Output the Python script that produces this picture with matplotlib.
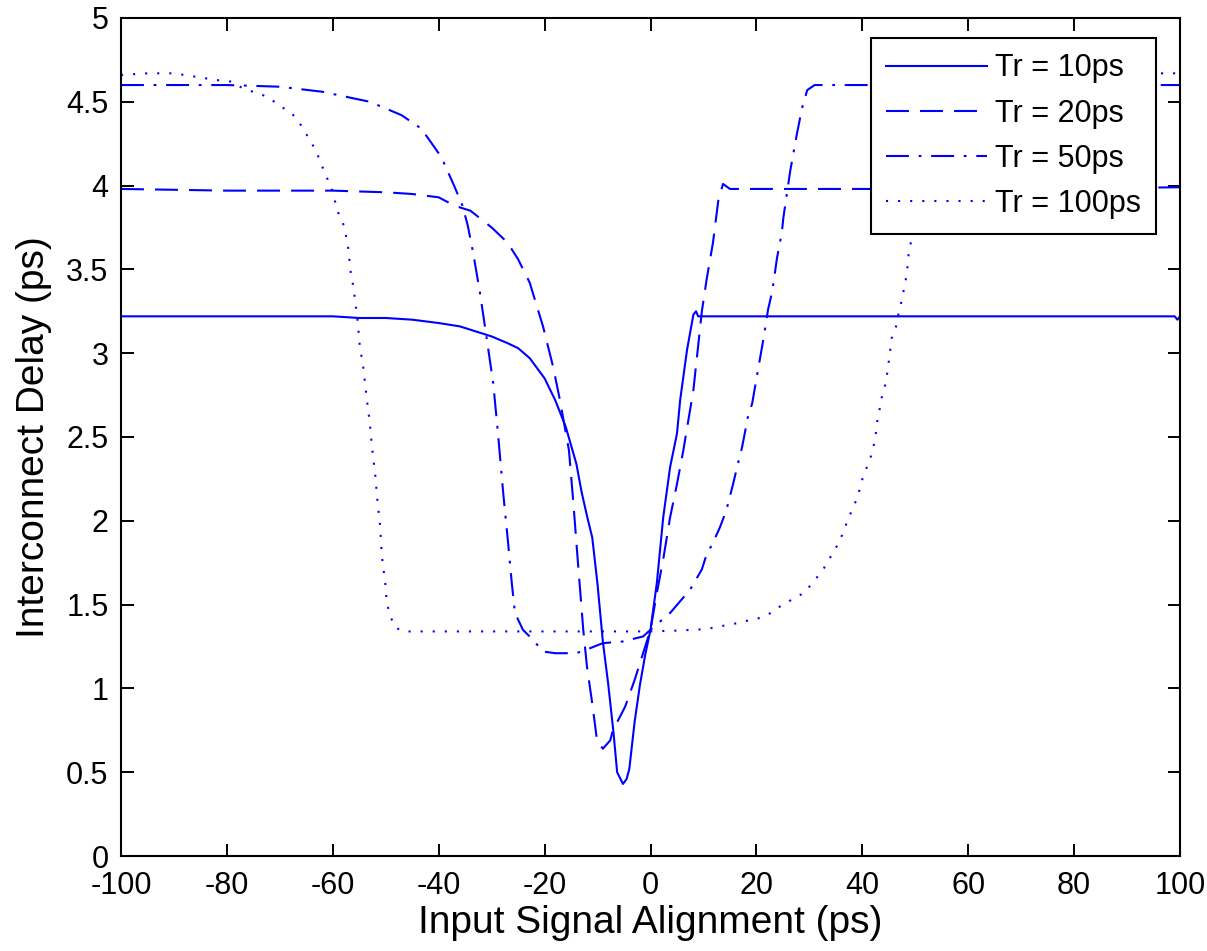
import numpy as np
import matplotlib
matplotlib.use('Agg')
import matplotlib.pyplot as plt

plt.rcParams['font.family'] = ['Liberation Sans', 'DejaVu Sans']
plt.rcParams['lines.scale_dashes'] = False
plt.rcParams['axes.unicode_minus'] = False

# Tr = 10ps
x_10 = [-100, -80, -60, -55, -50, -45, -40, -36, -33, -30, -27, -25, -22.8, -20, -18, -17, -16,
        -15, -14, -13, -12, -11, -10, -9, -8, -7, -6.3, -5.2, -4.5, -4, -3, -2, -1, 0, 1.2, 2.4,
        3.7, 5, 5.6, 6.9, 8.1, 8.6, 9, 20, 40, 60, 80, 99, 99.5, 100]
y_10 = [3.22, 3.22, 3.22, 3.21, 3.21, 3.20, 3.18, 3.16, 3.13, 3.10, 3.06, 3.03, 2.97, 2.85, 2.72, 2.64, 2.56,
        2.45, 2.34, 2.17, 2.03, 1.90, 1.62, 1.28, 1.03, 0.74, 0.50, 0.43, 0.46, 0.52, 0.80, 1.02, 1.20, 1.35, 1.63, 2.02,
        2.32, 2.52, 2.72, 3.02, 3.23, 3.25, 3.22, 3.22, 3.22, 3.22, 3.22, 3.22, 3.20, 3.22]

# Tr = 20ps
x_20 = [-100, -80, -60, -50, -45, -40, -37, -34, -30, -27, -25, -22.8, -20.3, -18.4, -17.1, -15.4,
        -14.6, -13.9, -13.3, -12.7, -12, -11, -10.1, -9, -7.6, -7.1, -4.8, -3, -1.4, 0, 1.2, 2.4, 3.7,
        5, 6.2, 8.1, 9.7, 10.6, 11.8, 12.8, 13.7, 15, 40, 70, 100]
y_20 = [3.98, 3.97, 3.97, 3.96, 3.95, 3.93, 3.88, 3.85, 3.75, 3.66, 3.56, 3.42, 3.16, 2.92, 2.72, 2.42,
        2.12, 1.83, 1.59, 1.35, 1.13, 0.91, 0.69, 0.64, 0.69, 0.75, 0.89, 1.05, 1.21, 1.35, 1.57, 1.77, 2.02,
        2.22, 2.42, 2.78, 3.25, 3.44, 3.66, 3.91, 4.01, 3.98, 3.98, 3.98, 3.99]

# Tr = 50ps
x_50 = [-100, -80, -70, -62, -53, -47, -43.3, -41.5, -39.5, -37.1, -35.5, -34.5, -33.5, -32.2, -30.9,
        -29.7, -28.8, -27.8, -26.9, -26.2, -25.6, -24.1, -22.2, -20.3, -18, -14, -11.4, -9, -5.2, -1.4,
        0, 3.7, 7.5, 9.7, 10.5, 11.8, 13.1, 14.3, 15.6, 16.5, 17.3, 18.4, 19.2, 20.3, 21.3, 22.2, 23,
        23.9, 24.8, 25.1, 26.4, 27.6, 28.6, 29.6, 31, 60, 100]
y_50 = [4.60, 4.60, 4.59, 4.56, 4.50, 4.42, 4.34, 4.26, 4.17, 4.00, 3.88, 3.76, 3.60, 3.36, 3.08,
        2.82, 2.52, 2.16, 1.87, 1.63, 1.45, 1.35, 1.29, 1.22, 1.21, 1.21, 1.24, 1.27, 1.28, 1.31,
        1.35, 1.45, 1.59, 1.71, 1.79, 1.87, 1.96, 2.06, 2.22, 2.34, 2.44, 2.62, 2.70, 2.90, 3.08, 3.26, 3.37,
        3.57, 3.72, 3.81, 4.09, 4.30, 4.46, 4.57, 4.60, 4.60, 4.60]

# Tr = 100ps
x_100 = [-100, -95, -90, -86, -82, -79, -77, -72.3, -70.2, -67.7, -66, -64.5, -63.2, -62.2, -61.3,
         -60.3, -59, -58.1, -57.5, -57.1, -56.6, -56.2, -55.8, -55.3, -54.9, -54.3, -53.9, -53.4, -53,
         -52.6, -52, -51.6, -51.1, -50.7, -50.1, -49.8, -49.2, -48.4, -46.9, -20, 0, 5, 10.7, 12.9,
         15.2, 17.5, 19.7, 22.2, 24.5, 26.7, 29, 30.9, 32.8, 34.1, 35.4, 36.4, 37.3, 38.3, 39.2, 39.8,
         40.6, 41.5, 42.4, 42.8, 43.3, 43.7, 44.3, 44.7, 45, 45.6, 46.5, 46.9, 47.5, 47.9, 48.4, 48.8,
         49.4, 50.5, 52, 54, 57, 61, 66, 75, 85, 100]
y_100 = [4.66, 4.67, 4.67, 4.65, 4.63, 4.62, 4.58, 4.53, 4.48, 4.43, 4.36, 4.28, 4.21, 4.13, 4.06,
         3.99, 3.84, 3.78, 3.70, 3.63, 3.48, 3.41, 3.32, 3.19, 3.04, 2.93, 2.82, 2.68, 2.58,
         2.44, 2.28, 2.13, 1.98, 1.78, 1.63, 1.51, 1.44, 1.37, 1.34, 1.34, 1.34, 1.345, 1.354, 1.37,
         1.38, 1.40, 1.41, 1.44, 1.49, 1.53, 1.57, 1.64, 1.72, 1.79, 1.86, 1.93, 2.01, 2.08, 2.15, 2.23,
         2.30, 2.37, 2.48, 2.59, 2.67, 2.74, 2.81, 2.88, 2.95, 3.10, 3.17, 3.25, 3.32, 3.39, 3.47, 3.61,
         3.69, 3.90, 4.10, 4.30, 4.48, 4.58, 4.63, 4.66, 4.67, 4.67]

labels = ['Tr = 10ps', 'Tr = 20ps', 'Tr = 50ps', 'Tr = 100ps']

fig = plt.figure(figsize=(12.07, 9.51), dpi=100)
ax = fig.add_axes([121/1207, 95/951, 1059/1207, 838/951])

blue = (0, 0, 1)
lw = 1.5
ax.plot(x_10, y_10, color=blue, lw=lw, linestyle='-', label=labels[0])
ax.plot(x_20, y_20, color=blue, lw=lw, linestyle=(0, (16.5, 8)), label=labels[1])
ax.plot(x_50, y_50, color=blue, lw=lw, linestyle=(0, (16.5, 7, 2, 7)), label=labels[2])
ax.plot(x_100, y_100, color=blue, lw=lw, linestyle=(0, (1.5, 7.2)), label=labels[3])

ax.set_xlim(-100, 100)
ax.set_ylim(0, 5)
ax.set_xticks(np.arange(-100, 101, 20))
ax.set_yticks(np.arange(0, 5.01, 0.5))
ax.set_yticklabels(['0', '0.5', '1', '1.5', '2', '2.5', '3', '3.5', '4', '4.5', '5'])

ax.tick_params(direction='in', top=True, right=True, length=9, width=1.4, labelsize=22)
ax.tick_params(axis='x', pad=11)
ax.tick_params(axis='y', pad=9)
for s in ax.spines.values():
    s.set_linewidth(1.5)

ax.set_xlabel('Input Signal Alignment (ps)', fontsize=28, labelpad=3)
ax.set_ylabel('Interconnect Delay (ps)', fontsize=28, labelpad=10)

leg = ax.legend(loc='upper right', bbox_to_anchor=(1 - 24/1059, 1 - 20/838), borderaxespad=0,
                fontsize=22, fancybox=False, framealpha=1, edgecolor='black',
                handlelength=3.3, handletextpad=0.25, labelspacing=0.5, borderpad=0.5)
leg.get_frame().set_linewidth(1.5)

fig.savefig('out.png', dpi=100)
